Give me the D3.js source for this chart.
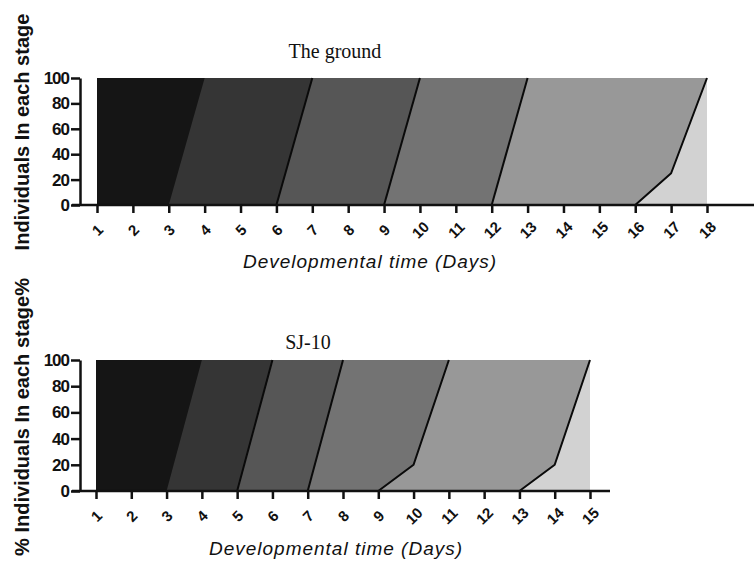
<!DOCTYPE html>
<html>
<head>
<meta charset="utf-8">
<script src="https://cdn.jsdelivr.net/npm/d3@7"></script>
<style>
  html, body { margin: 0; padding: 0; background: #ffffff; }
  svg { display: block; }
</style>
</head>
<body>
<svg id="chart" width="754" height="566"></svg>
<script>
// ---------- data ----------
const groundDays = [1,2,3,4,5,6,7,8,9,10,11,12,13,14,15,16,17,18];
const sjDays = [1,2,3,4,5,6,7,8,9,10,11,12,13,14,15];
const yTicks = [0,20,40,60,80,100];

// stage transition boundaries: [day, cumulative % having moulted]
const groundStage1End = [[3,0],[4,100]];
const groundStage2End = [[6,0],[7,100]];
const groundStage3End = [[9,0],[10,100]];
const groundStage4End = [[12,0],[13,100]];
const groundStage5End = [[16,0],[17,25],[18,100]];

const sjStage1End = [[3,0],[4,100]];
const sjStage2End = [[5,0],[6,100]];
const sjStage3End = [[7,0],[8,100]];
const sjStage4End = [[9,0],[10,20],[11,100]];
const sjStage5End = [[13,0],[14,20],[15,100]];

const stageColors = ["#151515","#353535","#565656","#737373","#989898","#d2d2d2"];

const panels = [
  { title: "The ground", yTitle: "Individuals In each stage", days: groundDays,
    bounds: [groundStage1End, groundStage2End, groundStage3End, groundStage4End, groundStage5End],
    x0: 97, x1: 707, yTop: 78, yBot: 205, axisEnd: 754,
    titleX: 335, titleY: 58, xTitleX: 370, xTitleY: 268, yTitleY: 132 },
  { title: "SJ-10", yTitle: "% Individuals In each stage%", days: sjDays,
    bounds: [sjStage1End, sjStage2End, sjStage3End, sjStage4End, sjStage5End],
    x0: 96, x1: 590, yTop: 360, yBot: 491, axisEnd: 610,
    titleX: 308, titleY: 349, xTitleX: 336, xTitleY: 555, yTitleY: 417 }
];

const svg = d3.select("#chart");

panels.forEach(p => {
  const first = p.days[0], last = p.days[p.days.length - 1];
  const x = d3.scaleLinear().domain([first, last]).range([p.x0, p.x1]);
  const y = d3.scaleLinear().domain([0, 100]).range([p.yBot, p.yTop]);
  const g = svg.append("g");
  const line = d3.line().x(d => x(d[0])).y(d => y(d[1]));

  // filled stage regions, painted from the last stage back to the first
  for (let k = stageColors.length - 1; k >= 0; k--) {
    let pts;
    if (k === stageColors.length - 1) {
      pts = [[first,0],[first,100],[last,100],[last,0]];
    } else {
      pts = [[first,0],[first,100]].concat(p.bounds[k].slice().reverse());
    }
    g.append("path").attr("d", line(pts) + "Z").attr("fill", stageColors[k]);
  }

  // boundary lines
  p.bounds.forEach((b, i) => {
    g.append("path").attr("d", line(b)).attr("fill", "none")
      .attr("stroke", "#0a0a0a").attr("stroke-width", i < 1 ? 0 : 2)
      .attr("stroke-linejoin", "round");
  });

  // x axis
  const axisX = 80;
  g.append("line").attr("x1", axisX - 8).attr("x2", p.axisEnd)
    .attr("y1", y(0)).attr("y2", y(0)).attr("stroke", "#111").attr("stroke-width", 2.5);
  const xa = g.append("g").attr("transform", `translate(0,${y(0)})`)
    .call(d3.axisBottom(x).tickValues(p.days).tickSize(8).tickSizeOuter(0).tickFormat(d3.format("d")));
  xa.select(".domain").remove();
  xa.selectAll(".tick line").attr("stroke", "#111").attr("stroke-width", 2.5);
  xa.selectAll(".tick text")
    .attr("y", 0).attr("dy", "0.35em")
    .attr("transform", "translate(0,25) rotate(-45)")
    .attr("text-anchor", "middle")
    .attr("font-family", "Liberation Sans, Arial, sans-serif")
    .attr("font-weight", "bold").attr("font-size", 15).attr("fill", "#111");

  // y axis
  const ya = g.append("g").attr("transform", `translate(${axisX},0)`)
    .call(d3.axisLeft(y).tickValues(yTicks).tickSize(9).tickSizeOuter(0));
  ya.select(".domain").attr("stroke", "#111").attr("stroke-width", 2.5);
  ya.selectAll(".tick line").attr("stroke", "#111").attr("stroke-width", 2.5);
  ya.selectAll(".tick text").attr("x", -11)
    .attr("font-family", "Liberation Sans, Arial, sans-serif")
    .attr("font-weight", "bold").attr("font-size", 17).attr("fill", "#111")
    .attr("letter-spacing", -1);

  // titles
  g.append("text").attr("x", p.titleX).attr("y", p.titleY).attr("text-anchor", "middle")
    .attr("font-family", "Liberation Serif, Times New Roman, serif").attr("font-size", 20)
    .attr("fill", "#111").text(p.title);
  g.append("text").attr("x", p.xTitleX).attr("y", p.xTitleY).attr("text-anchor", "middle")
    .attr("font-family", "Liberation Sans, Arial, sans-serif").attr("font-style", "italic")
    .attr("font-size", 19).attr("letter-spacing", 1).attr("fill", "#111")
    .text("Developmental time (Days)");
  g.append("text").attr("transform", `translate(29,${p.yTitleY}) rotate(-90)`)
    .attr("text-anchor", "middle")
    .attr("font-family", "Liberation Sans, Arial, sans-serif").attr("font-weight", "bold")
    .attr("font-size", 20).attr("fill", "#111").text(p.yTitle);
});
</script>
</body>
</html>
